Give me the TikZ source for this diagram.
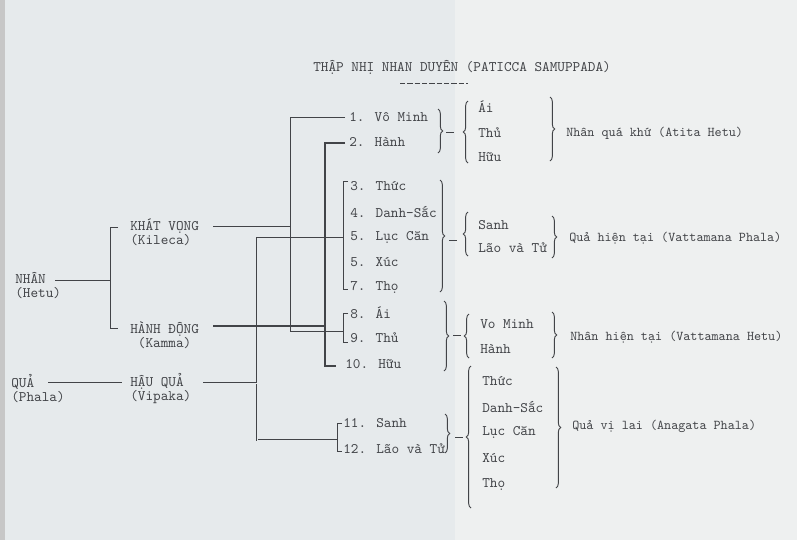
\documentclass[tikz,border=0pt]{standalone}
\usepackage{fontspec}
\usetikzlibrary{decorations.pathreplacing}
\definecolor{paper}{RGB}{230,234,236}
\definecolor{paperR}{RGB}{238,240,240}
\definecolor{ink}{RGB}{66,68,72}
\begin{document}
\begin{tikzpicture}[x=0.75pt,y=-0.75pt,
  txt/.style={anchor=west,inner sep=0pt,text=ink,align=left,font=\ttfamily\fontsize{10.9}{10.5}\selectfont},
  lab/.style={txt,font=\ttfamily\fontsize{10.1}{10.5}\selectfont},
  ln/.style={draw=ink,line width=0.7pt},
  heavy/.style={draw=ink,line width=1.5pt},
  dblo/.style={draw=ink,line width=2.2pt},
  dbli/.style={draw=paper,line width=0.7pt},
  rbr/.style={draw=ink,line width=0.7pt,decorate,decoration={brace,amplitude=3.5pt}},
]
% paper
\fill[paper] (0,0) rectangle (797,540);
\fill[paperR] (455,0) rectangle (797,540);
\fill[black!22] (0,0) rectangle (5,540);
\useasboundingbox (0,0) rectangle (797,540);

% title
\node[txt] (title) at (313,67) {THẬP NHỊ NHAN DUYÊN (PATICCA SAMUPPADA)};
\coordinate (ulA) at (400,83); \coordinate (ulB) at (468,83);
\draw[ln,dash pattern=on 4pt off 1.5pt] (ulA) -- (ulB);

% left texts
\node[txt] (nhan) at (15,286) {NHÂN\\(Hetu)};
\node[txt] (qua) at (11,389) {QUẢ\\(Phala)};
\node[txt] (khat) at (130,232) {KHÁT VỌNG\\(Kileca)};
\node[txt] (hanhd) at (130,335) {HÀNH ĐỘNG\\~(Kamma)};
\node[txt] (hauqua) at (130,389) {HẬU QUẢ\\(Vipaka)};

% left connectors
\coordinate (n1) at (55,280); \coordinate (n2) at (110,280);
\coordinate (b1) at (118,227); \coordinate (b2) at (110,227);
\coordinate (b3) at (110,328); \coordinate (b4) at (118,328);
\draw[ln] (n1) -- (n2);
\draw[ln] (b1) -- (b2) -- (b3) -- (b4);
\coordinate (q1) at (48,382); \coordinate (q2) at (122,382);
\draw[ln] (q1) -- (q2);

% main items
\node[txt] (i1) at (349,117) {1. Vô Minh};
\node[txt] (i2) at (349,142) {2. Hành};
\node[txt] (i3) at (350,186) {3. Thức};
\node[txt] (i4) at (350,212) {4. Danh-Sắc};
\node[txt] (i5) at (350,237) {5. Lục Căn};
\node[txt] (i6) at (350,262) {5. Xúc};
\node[txt] (i7) at (350,287) {7. Thọ};
\node[txt] (i8) at (350,313) {8. Ái};
\node[txt] (i9) at (350,338) {9. Thủ};
\node[txt] (i10) at (345,364) {10. Hữu};
\node[txt] (i11) at (343,423) {11. Sanh};
\node[txt] (i12) at (343,449) {12. Lão và Tử};

% line C (Hau qua) - double
\coordinate (c0) at (343,238); \coordinate (c1) at (257,238);
\coordinate (c2) at (257,440); \coordinate (c3) at (337,440);
\coordinate (v1) at (203,383); \coordinate (v2) at (257,383);
\draw[dblo] (c0) -- (c1) -- (c2) -- (c3);
\draw[dblo] (v1) -- (v2);
\draw[dbli] (c0) -- (c1) -- (c2) -- (c3);
\draw[dbli] (v1) -- (v2);

% line A (Khat vong)
\coordinate (a0) at (345,117); \coordinate (a1) at (290,117);
\coordinate (a2) at (290,331); \coordinate (a3) at (343,331);
\coordinate (k1) at (213,226); \coordinate (k2) at (290,226);
\draw[ln] (a0) -- (a1) -- (a2) -- (a3);
\draw[ln] (k1) -- (k2);
% bracket 8-9
\coordinate (e1) at (348,313); \coordinate (e2) at (343,313);
\coordinate (e3) at (343,342); \coordinate (e4) at (348,342);
\draw[ln] (e1) -- (e2) -- (e3) -- (e4);

% line B (Hanh dong)
\coordinate (h0) at (345,143); \coordinate (h1) at (325,143);
\coordinate (h2) at (325,366); \coordinate (h3) at (336,366);
\coordinate (d1) at (213,326); \coordinate (d2) at (325,326);
\draw[heavy] (h0) -- (h1) -- (h2) -- (h3);
\draw[heavy] (d1) -- (d2);

% bracket 3-7
\coordinate (f1) at (348,181); \coordinate (f2) at (343,181);
\coordinate (f3) at (343,289); \coordinate (f4) at (348,289);
\draw[ln] (f1) -- (f2) -- (f3) -- (f4);
% bracket 11-12
\coordinate (g1) at (342,423); \coordinate (g2) at (337,423);
\coordinate (g3) at (337,451); \coordinate (g4) at (342,451);
\draw[ln] (g1) -- (g2) -- (g3) -- (g4);

% ---- group 1
\coordinate (r1a) at (438,109); \coordinate (r1b) at (438,153);
\draw[rbr] (r1a) -- (r1b);
\coordinate (m1a) at (446,132); \coordinate (m1b) at (454,132);
\draw[ln] (m1a) -- (m1b);
\coordinate (l1a) at (468,163); \coordinate (l1b) at (468,101);
\draw[rbr] (l1a) -- (l1b);
\node[txt] (j1) at (478,107) {Ái};
\node[txt] (j2) at (478,133) {Thủ};
\node[txt] (j3) at (478,157) {Hữu};
\coordinate (s1a) at (550,97); \coordinate (s1b) at (550,161);
\draw[rbr] (s1a) -- (s1b);
\node[lab] (lab1) at (566,133) {Nhân quá khứ (Atita Hetu)};

% ---- group 2
\coordinate (r2a) at (440,180); \coordinate (r2b) at (440,292);
\draw[rbr] (r2a) -- (r2b);
\coordinate (m2a) at (449,240); \coordinate (m2b) at (457,240);
\draw[ln] (m2a) -- (m2b);
\coordinate (l2a) at (468,256); \coordinate (l2b) at (468,212);
\draw[rbr] (l2a) -- (l2b);
\node[txt] (j4) at (478,225) {Sanh};
\node[txt] (j5) at (478,248) {Lão và Tử};
\coordinate (s2a) at (552,216); \coordinate (s2b) at (552,258);
\draw[rbr] (s2a) -- (s2b);
\node[lab] (lab2) at (569,238) {Quả hiện tại (Vattamana Phala)};

% ---- group 3
\coordinate (r3a) at (444,301); \coordinate (r3b) at (444,371);
\draw[rbr] (r3a) -- (r3b);
\coordinate (m3a) at (453,335); \coordinate (m3b) at (461,335);
\draw[ln] (m3a) -- (m3b);
\coordinate (l3a) at (469,358); \coordinate (l3b) at (469,314);
\draw[rbr] (l3a) -- (l3b);
\node[txt] (j6) at (480,324) {Vo Minh};
\node[txt] (j7) at (480,349) {Hành};
\coordinate (s3a) at (552,312); \coordinate (s3b) at (552,358);
\draw[rbr] (s3a) -- (s3b);
\node[lab] (lab3) at (570,337) {Nhân hiện tại (Vattamana Hetu)};

% ---- group 4
\coordinate (r4a) at (445,414); \coordinate (r4b) at (445,453);
\draw[rbr] (r4a) -- (r4b);
\coordinate (m4a) at (455,437); \coordinate (m4b) at (463,437);
\draw[ln] (m4a) -- (m4b);
\coordinate (l4a) at (471,508); \coordinate (l4b) at (471,366);
\draw[rbr] (l4a) -- (l4b);
\node[txt] (j8) at (482,381) {Thức};
\node[txt] (j9) at (482,407) {Danh-Sắc};
\node[txt] (j10) at (482,432) {Lục Căn};
\node[txt] (j11) at (482,458) {Xúc};
\node[txt] (j12) at (482,485) {Thọ};
\coordinate (s4a) at (556,367); \coordinate (s4b) at (556,488);
\draw[rbr] (s4a) -- (s4b);
\node[lab] (lab4) at (572,426) {Quả vị lai (Anagata Phala)};
\end{tikzpicture}
\end{document}
